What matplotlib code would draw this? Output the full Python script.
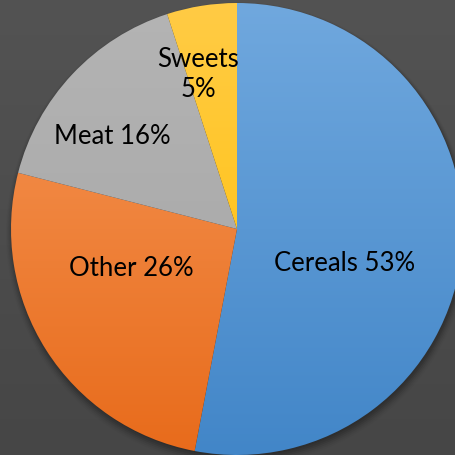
import numpy as np
import matplotlib
matplotlib.use('Agg')
import matplotlib.pyplot as plt
from matplotlib.colors import LinearSegmentedColormap
from matplotlib.patches import Circle

plt.rcParams['font.family'] = ['Lato', 'DejaVu Sans']

# food share data
categories = ['Cereals', 'Other', 'Meat', 'Sweets']
shares = [53, 26, 16, 5]
label_text = ['Cereals 53%', 'Other 26%', 'Meat 16%', 'Sweets\n5%']

# light (top) / dark (bottom) shade of each slice
top_colors = ['#70a8de', '#f6995a', '#b4b4b4', '#ffcb45']
bottom_colors = ['#4286c8', '#e86b1b', '#a4a4a4', '#ffc000']

# label placement: angle (deg, None = slice middle) and fraction of radius
label_angle = [-17, -160, 143, 104]
label_radius = [0.5, 0.5, 0.69, 0.71]

W, H = 455, 456
fig = plt.figure(figsize=(W / 100, H / 100), dpi=100)
ax = fig.add_axes([0, 0, 1, 1])

cx, cy, R = 237, 226, 226

# dark backdrop with a faint vertical fade
bg = LinearSegmentedColormap.from_list('bg', ['#464646', '#535353'])
ax.imshow(np.linspace(0, 1, 256).reshape(-1, 1), cmap=bg, aspect='auto',
          extent=(0, W, 0, H), origin='lower', zorder=0)

# soft drop shadow under the pie
for i, a in enumerate(np.linspace(0.10, 0.02, 6)):
    ax.add_patch(Circle((cx + 1, cy - 2 - i * 0.6), R + i * 1.2, color='black',
                        alpha=a, lw=0, zorder=1))

wedges, _ = ax.pie(shares, startangle=90, counterclock=False, center=(cx, cy),
                   radius=R, wedgeprops=dict(linewidth=0))

grad = np.linspace(0, 1, 256).reshape(-1, 1)
for w, c0, c1 in zip(wedges, top_colors, bottom_colors):
    w.set_facecolor('none')
    w.set_zorder(3)
    cmap = LinearSegmentedColormap.from_list('g', [c1, c0])
    im = ax.imshow(grad, cmap=cmap, aspect='auto', origin='lower',
                   extent=(cx - R, cx + R, cy - R, cy + R), zorder=2)
    im.set_clip_path(w)

for w, txt, a, r in zip(wedges, label_text, label_angle, label_radius):
    if a is None:
        a = (w.theta1 + w.theta2) / 2
    ang = np.deg2rad(a)
    x = cx + r * R * np.cos(ang)
    y = cy + r * R * np.sin(ang)
    ax.text(x, y, txt, ha='center', va='center', fontsize=18.5, color='black',
            linespacing=1.25, zorder=4)

ax.set_xlim(0, W)
ax.set_ylim(0, H)
ax.set_aspect('auto')
ax.axis('off')

fig.savefig('out.png', dpi=100)
